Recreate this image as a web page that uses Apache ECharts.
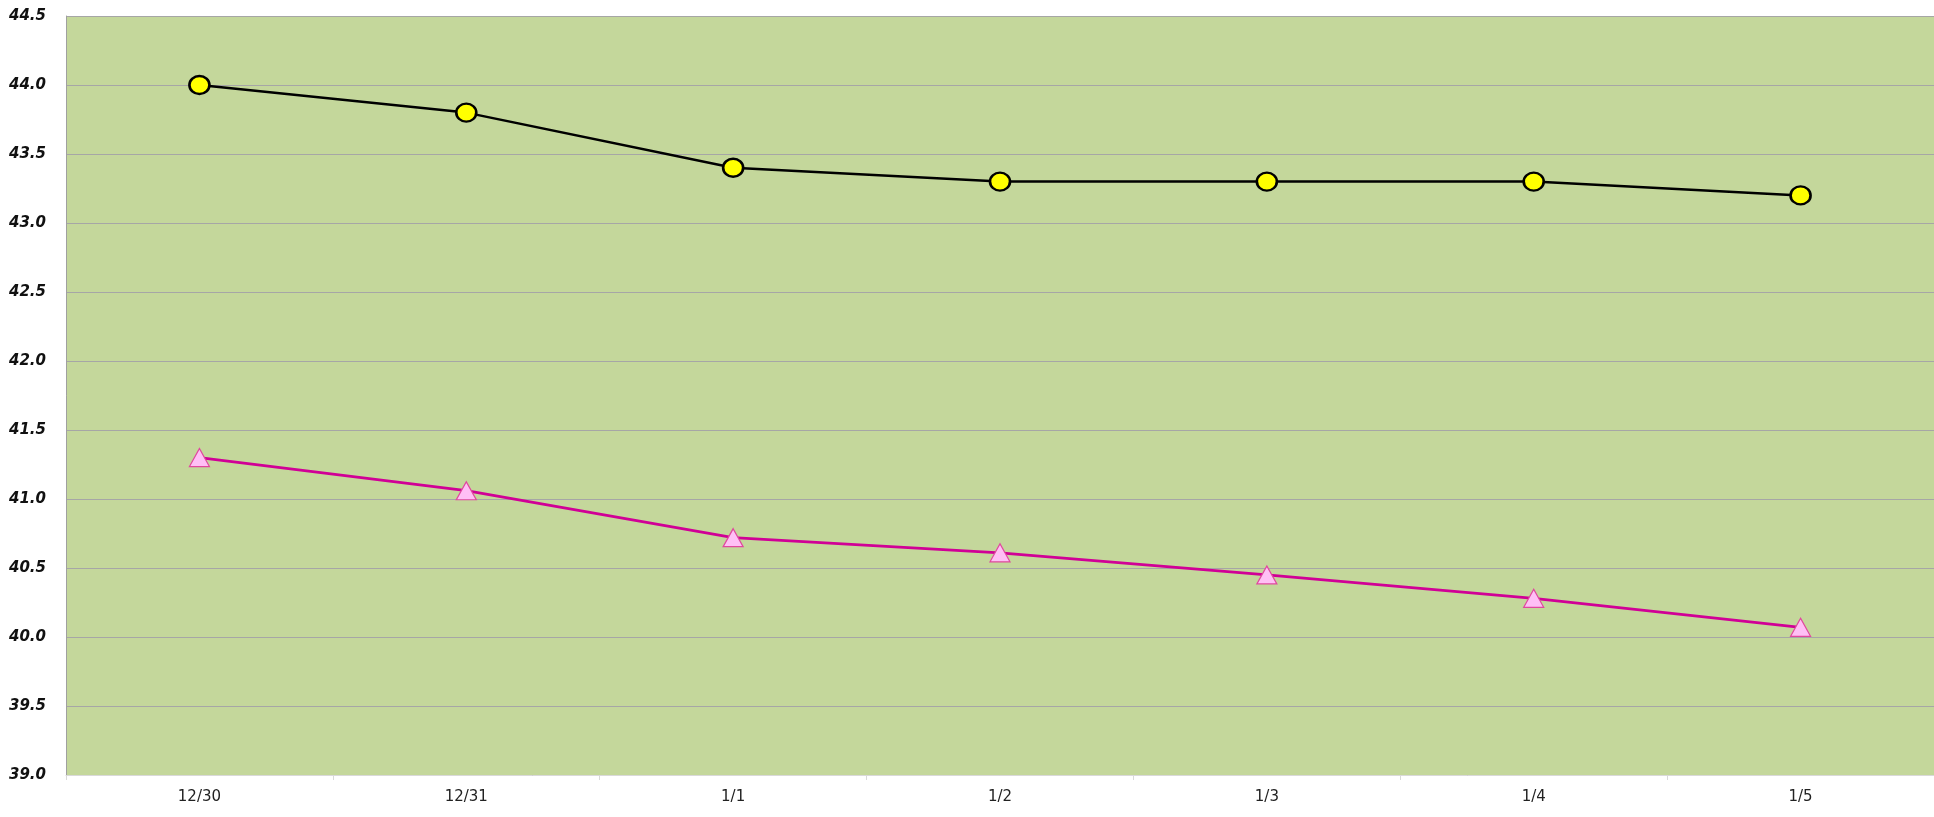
<!DOCTYPE html>
<html>
<head>
<meta charset="utf-8">
<script src="https://cdn.jsdelivr.net/npm/echarts@6/dist/echarts.min.js"></script>
<style>
html,body{margin:0;padding:0;background:#fff;}
#chart{width:1934px;height:817px;}
</style>
</head>
<body>
<div id="chart"></div>
<script>
const categories = ['12/30', '12/31', '1/1', '1/2', '1/3', '1/4', '1/5'];
const seriesUpper = [44.0, 43.8, 43.4, 43.3, 43.3, 43.3, 43.2];
const seriesLower = [41.3, 41.06, 40.72, 40.61, 40.45, 40.28, 40.07];
const yMin = 39.0, yMax = 44.5, yStep = 0.5;

const chart = echarts.init(document.getElementById('chart'));
chart.setOption({
  animation: false,
  backgroundColor: '#ffffff',
  grid: {
    left: 66, top: 16, right: 0, bottom: 42,
    show: true, backgroundColor: '#C4D79B', borderWidth: 0
  },
  xAxis: {
    type: 'category',
    data: categories,
    boundaryGap: true,
    axisLine: { show: true, lineStyle: { color: '#D9D9D9', width: 1 } },
    axisTick: { show: true, alignWithLabel: false, length: 5, lineStyle: { color: '#D9D9D9' } },
    axisLabel: { color: '#222', fontFamily: 'DejaVu Sans', fontSize: 15, margin: 15 },
    splitLine: { show: false }
  },
  yAxis: {
    type: 'value',
    min: yMin, max: yMax, interval: yStep,
    axisLine: { show: true, lineStyle: { color: '#A0A0A0', width: 1 } },
    axisTick: { show: false },
    axisLabel: {
      color: '#111', fontFamily: 'DejaVu Sans', fontSize: 15, fontWeight: 'bold', fontStyle: 'italic',
      margin: 20, padding: [3, 0, 0, 0], formatter: v => v.toFixed(1)
    },
    splitLine: { show: true, lineStyle: { color: '#A6A6A6', width: 1 } }
  },
  series: [
    {
      type: 'line', data: seriesUpper,
      symbol: 'circle', symbolSize: [20, 18],
      itemStyle: { color: '#FFFF00', borderColor: '#000', borderWidth: 2.5 },
      lineStyle: { color: '#000', width: 2.5 },
      z: 3
    },
    {
      type: 'line', data: seriesLower,
      symbol: 'triangle', symbolSize: [20, 18],
      itemStyle: { color: '#FFBFF5', borderColor: '#E0489E', borderWidth: 1.2 },
      lineStyle: { color: '#D00096', width: 2.8 },
      z: 2
    }
  ]
});
</script>
</body>
</html>
